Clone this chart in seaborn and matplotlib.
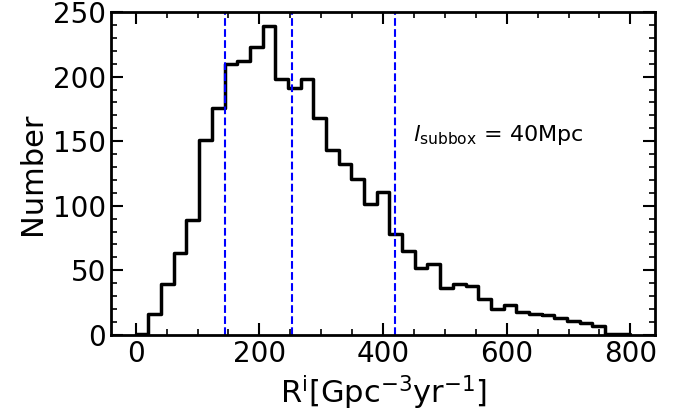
import numpy as np
import pandas as pd
import matplotlib
matplotlib.use("Agg")
import matplotlib.pyplot as plt
from matplotlib.ticker import MultipleLocator
import seaborn as sns

# ── Data ─────────────────────────────────────────────────────────────────────
rate_min, rate_max, n_bins = 0, 800, 39       # bins of ~20.5 Gpc^-3 yr^-1
counts = [1, 16, 39, 63, 89, 151, 176, 210, 212, 223, 239, 198, 191,
          198, 168, 143, 132, 121, 101, 111, 78, 65, 52, 55, 36, 39,
          38, 28, 20, 23, 18, 16, 15, 13, 11, 9, 7, 1, 1]
percentile_lines = [145, 253, 420]
label_text = r"$l_{\rm subbox}$ = 40Mpc"

rate_edges = np.linspace(rate_min, rate_max, n_bins + 1)
df = pd.DataFrame({
    "rate": 0.5 * (rate_edges[:-1] + rate_edges[1:]),
    "count": counts,
})

# ── Plot ─────────────────────────────────────────────────────────────────────
sns.set_style("ticks", {"text.color": "black", "axes.labelcolor": "black",
                        "xtick.color": "black", "ytick.color": "black",
                        "axes.edgecolor": "black"})
plt.rcParams["font.family"] = ["DejaVu Sans"]
plt.rcParams["mathtext.fontset"] = "dejavusans"

fig, ax = plt.subplots(figsize=(6.81, 4.18), dpi=100)
fig.subplots_adjust(left=0.163, right=0.962, top=0.971, bottom=0.199)

sns.histplot(data=df, x="rate", weights="count",
             binwidth=(rate_max - rate_min) / n_bins,
             binrange=(rate_min, rate_max),
             element="step", fill=False, color="black", linewidth=2.5, ax=ax)

for xv in percentile_lines:
    ax.axvline(xv, color="blue", linestyle="--", linewidth=1.5)

ax.text(448, 150, label_text, fontsize=16, color="black")

ax.set_ylim(0, 250)
ax.set_xlim(-40, 840)
ax.set_xlabel(r"R$^{\rm i}$[Gpc$^{-3}$yr$^{-1}$]", fontsize=22)
ax.set_ylabel("Number", fontsize=22)

ax.xaxis.set_major_locator(MultipleLocator(200))
ax.xaxis.set_minor_locator(MultipleLocator(50))
ax.yaxis.set_major_locator(MultipleLocator(50))
ax.yaxis.set_minor_locator(MultipleLocator(10))
ax.tick_params(which="both", direction="in", top=True, right=True,
               labelsize=20)
ax.tick_params(which="major", length=8.5, width=1.5)
ax.tick_params(which="minor", length=4.5, width=1.2)
for sp in ax.spines.values():
    sp.set_linewidth(2)
    sp.set_color("black")

plt.savefig("out.png", dpi=100)
